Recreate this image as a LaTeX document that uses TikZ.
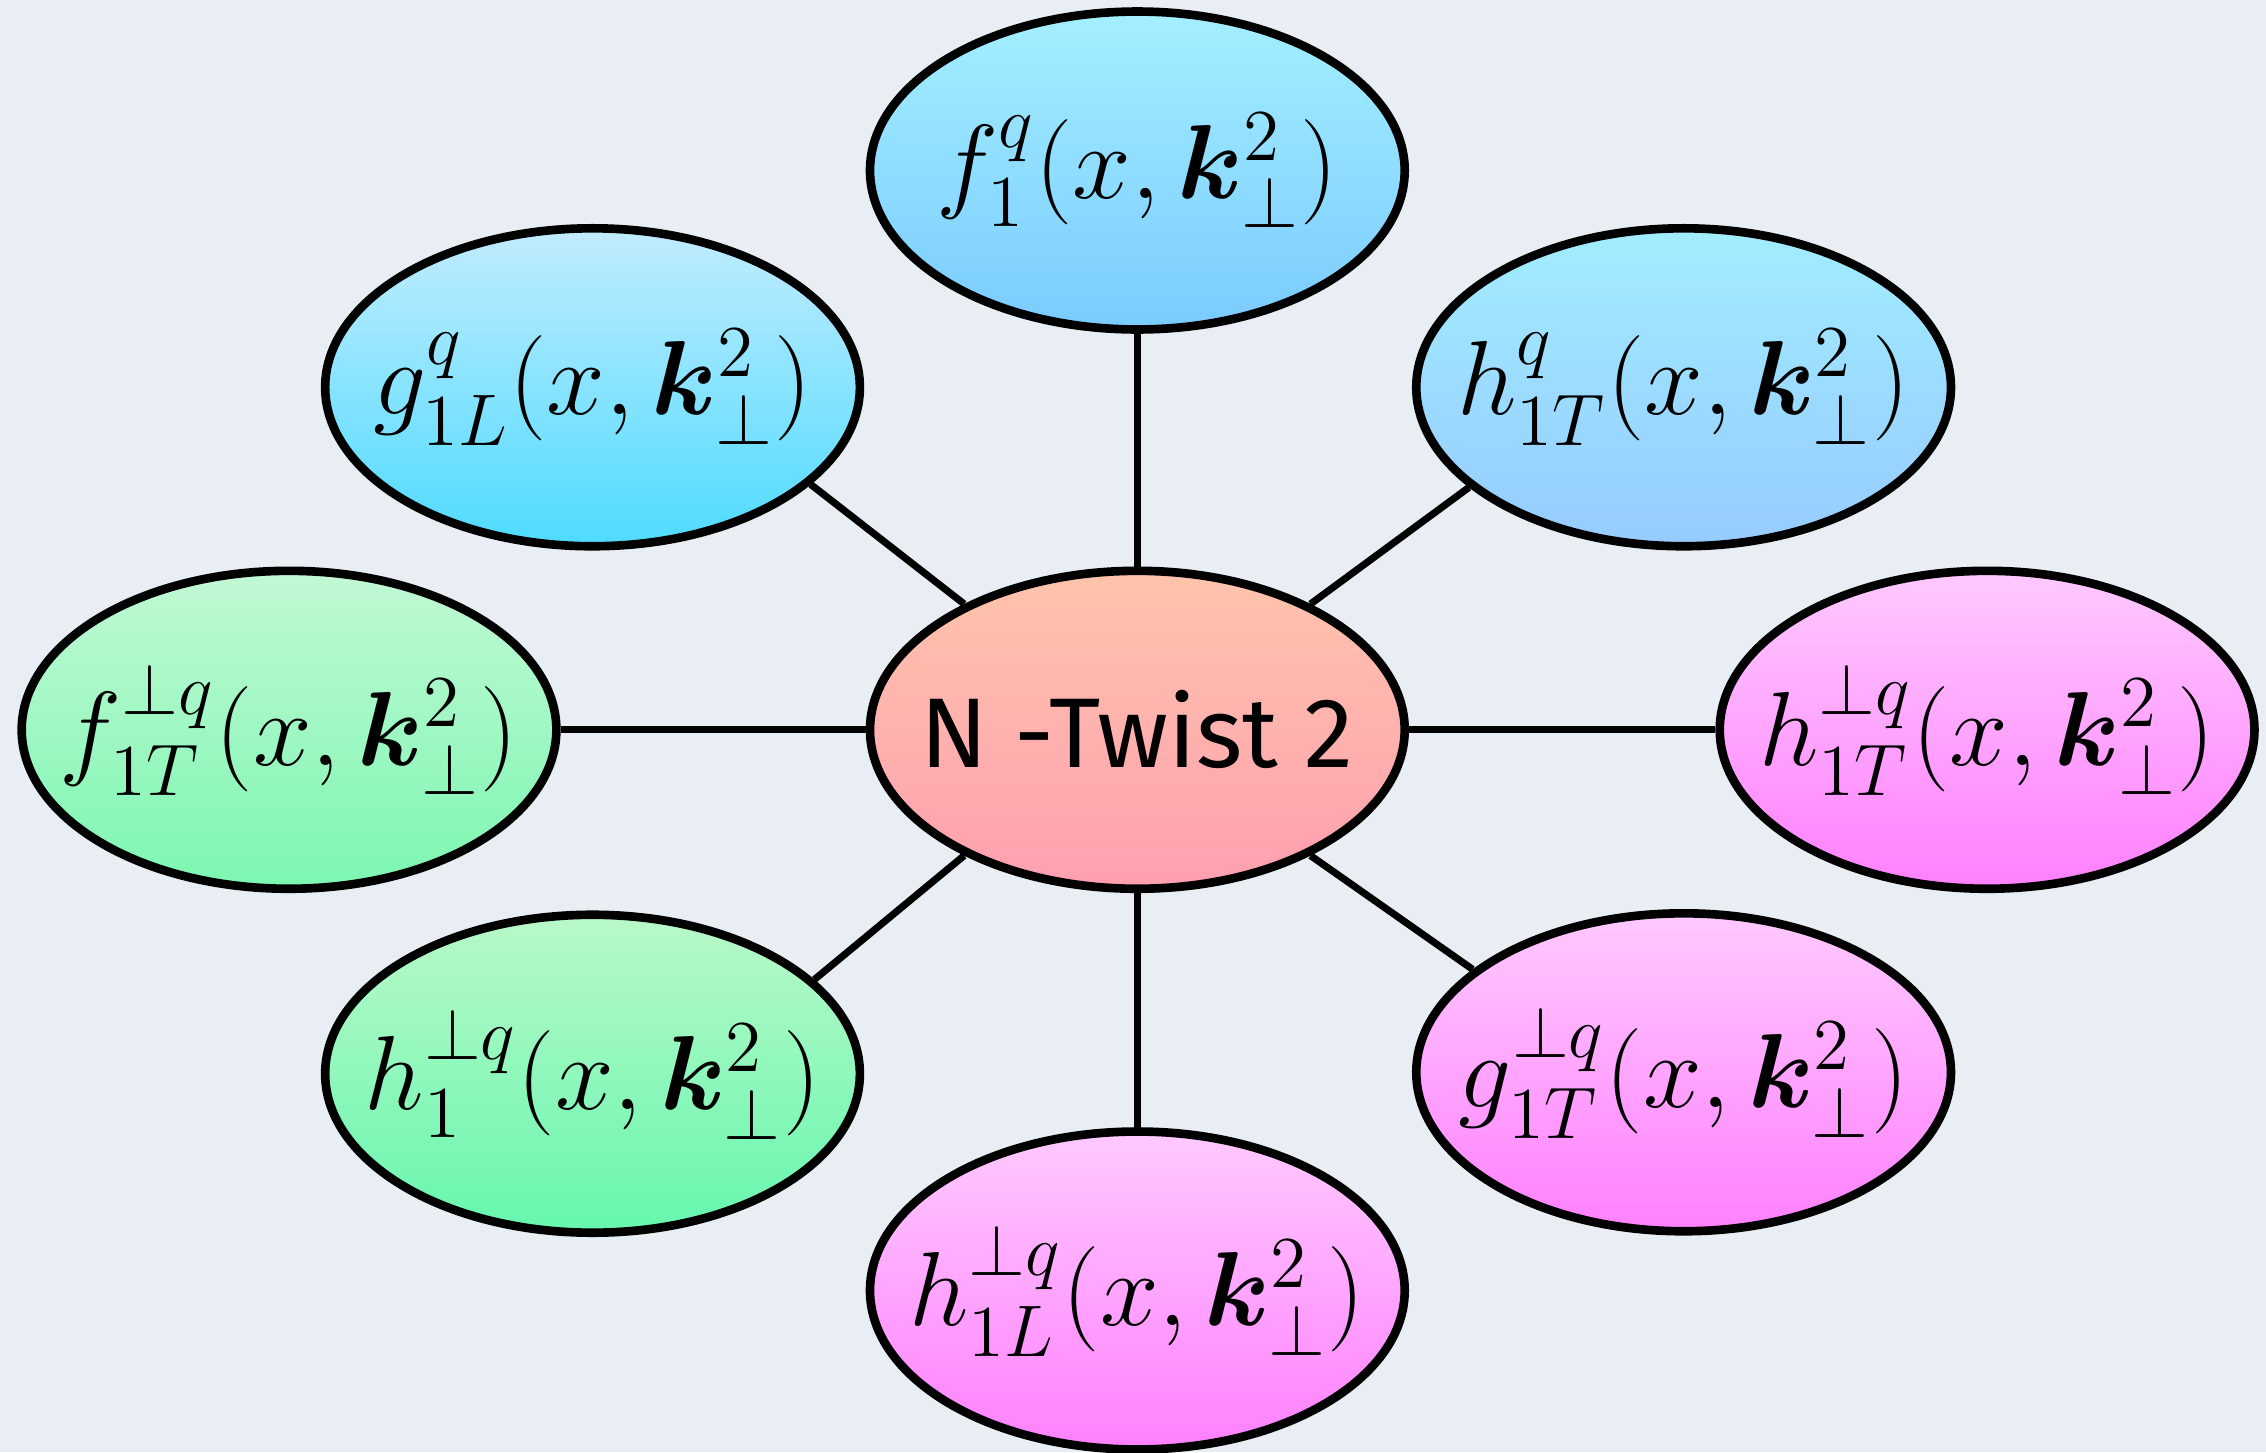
\documentclass[tikz,border=0pt]{standalone}
\usepackage{amsmath}
\usepackage{bm}
\usepackage{fontspec}
\usepackage{tikz}
\usetikzlibrary{shapes.geometric}
\newfontfamily\hubfont{Fira Sans}
\definecolor{Paper}{HTML}{E9EEF4}
\definecolor{BlueTop}{HTML}{A4EFFF}
\definecolor{BlueBot}{HTML}{7ACBFF}
\definecolor{SkyTop}{HTML}{C2ECFF}
\definecolor{SkyBot}{HTML}{4EDBFF}
\definecolor{IceTop}{HTML}{A2EDFF}
\definecolor{IceBot}{HTML}{96CBFF}
\definecolor{GreenTop}{HTML}{C2F8D4}
\definecolor{GreenBot}{HTML}{7CF7B2}
\definecolor{MintTop}{HTML}{B9F8C9}
\definecolor{MintBot}{HTML}{66F7AE}
\definecolor{PinkTop}{HTML}{FFC9FF}
\definecolor{PinkBot}{HTML}{FF80FF}
\definecolor{HubTop}{HTML}{FFC4AC}
\definecolor{HubBot}{HTML}{FF9FB0}

\begin{document}
\begin{tikzpicture}[
    tmd/.style={ellipse, draw=black, line width=1.7pt, minimum width=3.7cm,
      minimum height=2.2cm, inner xsep=-0.6cm, inner ysep=-0.2cm,
      font=\fontsize{20}{24}\selectfont},
    link/.style={line width=1.4pt}]
  \fill[Paper] (0,0) rectangle (15.68,10.05);
  \useasboundingbox (0,0) rectangle (15.68,10.05);
  % central node
  \node[tmd, top color=HubTop, bottom color=HubBot, font=\hubfont\fontsize{19.5}{22}\selectfont] (ntw) at (7.87,5.00) {N -Twist 2};
  % twist-2 functions
  \node[tmd, top color=BlueTop, bottom color=BlueBot] (fone) at (7.87,8.87) {$f_1^q(x,\bm{k}_\perp^2)$};
  \node[tmd, top color=SkyTop, bottom color=SkyBot] (goneL) at (4.10,7.37) {$g_{1L}^q(x,\bm{k}_\perp^2)$};
  \node[tmd, top color=IceTop, bottom color=IceBot] (honeT) at (11.65,7.37) {$h_{1T}^q(x,\bm{k}_\perp^2)$};
  \node[tmd, top color=GreenTop, bottom color=GreenBot] (foneTp) at (2.00,5.00) {$f_{1T}^{\perp q}(x,\bm{k}_\perp^2)$};
  \node[tmd, top color=PinkTop, bottom color=PinkBot] (honeTp) at (13.75,5.00) {$h_{1T}^{\perp q}(x,\bm{k}_\perp^2)$};
  \node[tmd, top color=MintTop, bottom color=MintBot] (honep) at (4.10,2.62) {$h_1^{\perp q}(x,\bm{k}_\perp^2)$};
  \node[tmd, top color=PinkTop, bottom color=PinkBot] (goneTp) at (11.65,2.63) {$g_{1T}^{\perp q}(x,\bm{k}_\perp^2)$};
  \node[tmd, top color=PinkTop, bottom color=PinkBot] (honeLp) at (7.87,1.12) {$h_{1L}^{\perp q}(x,\bm{k}_\perp^2)$};
  % spokes
  \draw[link] (ntw) -- (fone);
  \draw[link] (ntw) -- (honeLp);
  \draw[link] (ntw) -- (foneTp);
  \draw[link] (ntw) -- (honeTp);
  \draw[link] (ntw.144) -- (goneL.-24);
  \draw[link] (ntw.36) -- (honeT.205);
  \draw[link] (ntw.216) -- (honep.23);
  \draw[link] (ntw.-36) -- (goneTp.154);
\end{tikzpicture}
\end{document}
